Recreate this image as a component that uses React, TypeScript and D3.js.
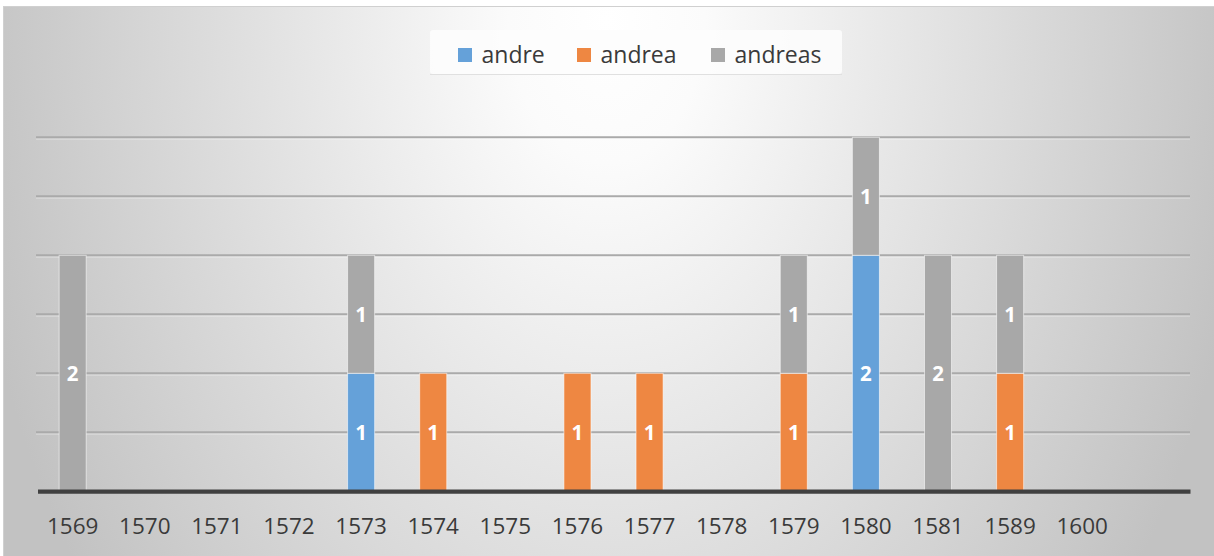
import React from "react";
import * as d3 from "d3";

const categories = ["1569", "1570", "1571", "1572", "1573", "1574", "1575", "1576", "1577", "1578", "1579", "1580", "1581", "1589", "1600", ""];
const seriesNames = ["andre", "andrea", "andreas"];
const andre = [0, 0, 0, 0, 1, 0, 0, 0, 0, 0, 0, 2, 0, 0, 0, 0];
const andrea = [0, 0, 0, 0, 0, 1, 0, 1, 1, 0, 1, 0, 0, 1, 0, 0];
const andreas = [2, 0, 0, 0, 1, 0, 0, 0, 0, 0, 1, 1, 2, 1, 0, 0];
const gridTicks = [0.5, 1, 1.5, 2, 2.5, 3];
const colors = ["#65a1d9", "#ee8742", "#a8a8a8"];

const W = 1214;
const H = 556;
const FONT = "'Open Sans', 'Segoe UI', sans-serif";

export default function App() {
  const rows = categories.map((c, i) => ({ cat: c, andre: andre[i], andrea: andrea[i], andreas: andreas[i] }));
  const stacked = d3.stack<any>().keys(seriesNames)(rows);

  const x = d3.scaleBand<string>().domain(categories.map((c, i) => c + "#" + i)).range([36.6, 1190.4]).padding(0);
  const y = d3.scaleLinear().domain([0, 3]).range([491.3, 137.3]);
  const barW = x.bandwidth() * 0.375;
  const cx = (i: number) => (x(categories[i] + "#" + i) as number) + x.bandwidth() / 2;

  const legendX = [458, 577, 711];

  return (
    <svg width={W} height={H} style={{ position: "absolute", left: 0, top: 0 }} fontFamily={FONT}>
      <defs>
        <radialGradient id="bg" gradientUnits="userSpaceOnUse" cx={0} cy={0} r={1}
          gradientTransform="translate(607,20) scale(650,950)">
          <stop offset="0" stopColor="#ffffff" />
          <stop offset="0.15" stopColor="#fbfbfb" />
          <stop offset="1" stopColor="#c2c2c2" />
        </radialGradient>
      </defs>
      <rect x={0} y={0} width={W} height={H} fill="#ffffff" />
      <rect x={3.5} y={6.5} width={W} height={H} fill="url(#bg)" stroke="#d0d0d0" strokeWidth={1} />

      {/* gridlines */}
      {gridTicks.map((t) => (
        <g key={t}>
          <line x1={36} x2={1190} y1={y(t)} y2={y(t)} stroke="#aaaaaa" strokeWidth={2} />
          <line x1={36} x2={1190} y1={y(t) + 1.8} y2={y(t) + 1.8} stroke="#ffffff" strokeOpacity={0.4} strokeWidth={1} />
        </g>
      ))}

      {/* bars */}
      {stacked.map((s, si) => (
        <g key={s.key}>
          {s.map((d, i) => {
            if (d[1] - d[0] <= 0) return null;
            return (
              <rect key={i} x={cx(i) - barW / 2} y={y(d[1])} width={barW} height={y(d[0]) - y(d[1])}
                fill={colors[si]} stroke="#ffffff" strokeOpacity={0.55} strokeWidth={1} />
            );
          })}
        </g>
      ))}

      {/* data labels */}
      {stacked.map((s) => (
        <g key={"l" + s.key}>
          {s.map((d, i) => {
            const v = d[1] - d[0];
            if (v <= 0) return null;
            return (
              <text key={i} x={cx(i)} y={(y(d[0]) + y(d[1])) / 2} dy="0.36em" textAnchor="middle"
                fill="#ffffff" fontWeight="bold" fontSize={20.5}>{v}</text>
            );
          })}
        </g>
      ))}

      {/* baseline */}
      <line x1={38} x2={1190.5} y1={491.6} y2={491.6} stroke="#404040" strokeWidth={4.4} />

      {/* x axis labels */}
      {categories.map((c, i) => (
        <text key={i} x={cx(i)} y={534} textAnchor="middle" fill="#3a3a3a" fontSize={22.5}>{c}</text>
      ))}

      {/* legend */}
      <rect x={430} y={30} width={412} height={44} rx={3} fill="#fdfdfd" fillOpacity={0.85} />
      <line x1={430} x2={842} y1={74.5} y2={74.5} stroke="#e0e0e0" strokeWidth={1} />
      {seriesNames.map((n, i) => (
        <g key={n}>
          <rect x={legendX[i]} y={48} width={14} height={14} fill={colors[i]} />
          <text x={legendX[i] + 23.5} y={62.8} fill="#3a3a3a" fontSize={23}>{n}</text>
        </g>
      ))}
    </svg>
  );
}
